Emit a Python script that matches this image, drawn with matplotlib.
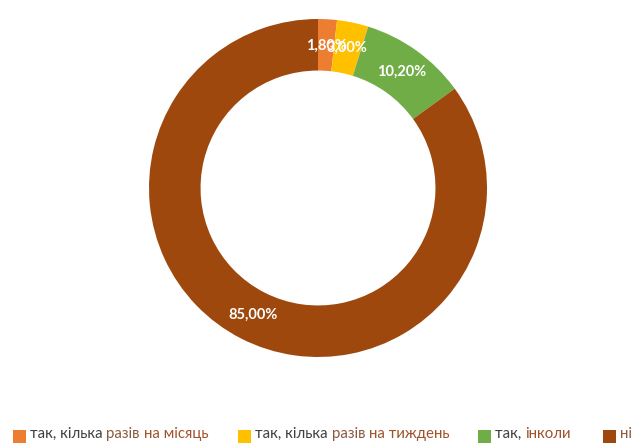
import matplotlib
matplotlib.use("Agg")
import matplotlib.pyplot as plt
from matplotlib.patches import Rectangle

categories = ["так, кілька разів на місяць", "так, кілька разів на тиждень", "так, інколи", "ні"]
values = [1.8, 3.0, 10.2, 85.0]
labels = ["1,80%", "3,00%", "10,20%", "85,00%"]
colors = ["#ED7D31", "#FFC000", "#70AD47", "#9E480E"]
# legend text pieces (text, color)
legend_parts = [
    [("так, кілька ", "#404040"), ("разів ", "#8A5A3E"), ("на місяць", "#A0522D")],
    [("так, кілька ", "#404040"), ("разів ", "#8A5A3E"), ("на тиждень", "#A0522D")],
    [("так, ", "#404040"), ("інколи", "#A0522D")],
    [("ні", "#8A5A3E")],
]
legend_marker_x = [13, 238, 478, 603]

W, H = 633, 446
fig = plt.figure(figsize=(W / 100, H / 100), dpi=100)
fig.patch.set_facecolor("white")
plt.rcParams['font.family'] = ['Lato', 'DejaVu Sans']

cx, cy, R = 318, 188, 169
ax = fig.add_axes([(cx - R) / W, (H - cy - R) / H, 2 * R / W, 2 * R / H])

wedges, texts = ax.pie(values, colors=colors, startangle=90, counterclock=False,
                       radius=1.0, wedgeprops=dict(width=0.305, linewidth=0),
                       labels=labels, labeldistance=0.845,
                       textprops=dict(color="white", fontsize=10.5, fontweight="bold",
                                      ha="center", va="center"))
ax.set_xlim(-1, 1)
ax.set_ylim(-1, 1)
ax.set_aspect("equal")
ax.axis("off")

fig.canvas.draw()
renderer = fig.canvas.get_renderer()
fs = 10.8


def text_width(s):
    t = fig.text(0, 0, s + "|", fontsize=fs)
    w1 = t.get_window_extent(renderer).width
    t.remove()
    t = fig.text(0, 0, "|", fontsize=fs)
    w2 = t.get_window_extent(renderer).width
    t.remove()
    return w1 - w2


ly = 436
for i, (mx, parts) in enumerate(zip(legend_marker_x, legend_parts)):
    fig.patches.append(Rectangle((mx / W, (H - ly - 7) / H), 13 / W, 13 / H,
                                 transform=fig.transFigure, facecolor=colors[i],
                                 edgecolor="none"))
    x0 = mx + 17
    prefix = ""
    for txt, col in parts:
        x = x0 + text_width(prefix) if prefix else x0
        fig.text(x / W, (H - ly + 2) / H, txt, color=col, fontsize=fs,
                 ha="left", va="center")
        prefix += txt

fig.savefig("out.png", dpi=100)
